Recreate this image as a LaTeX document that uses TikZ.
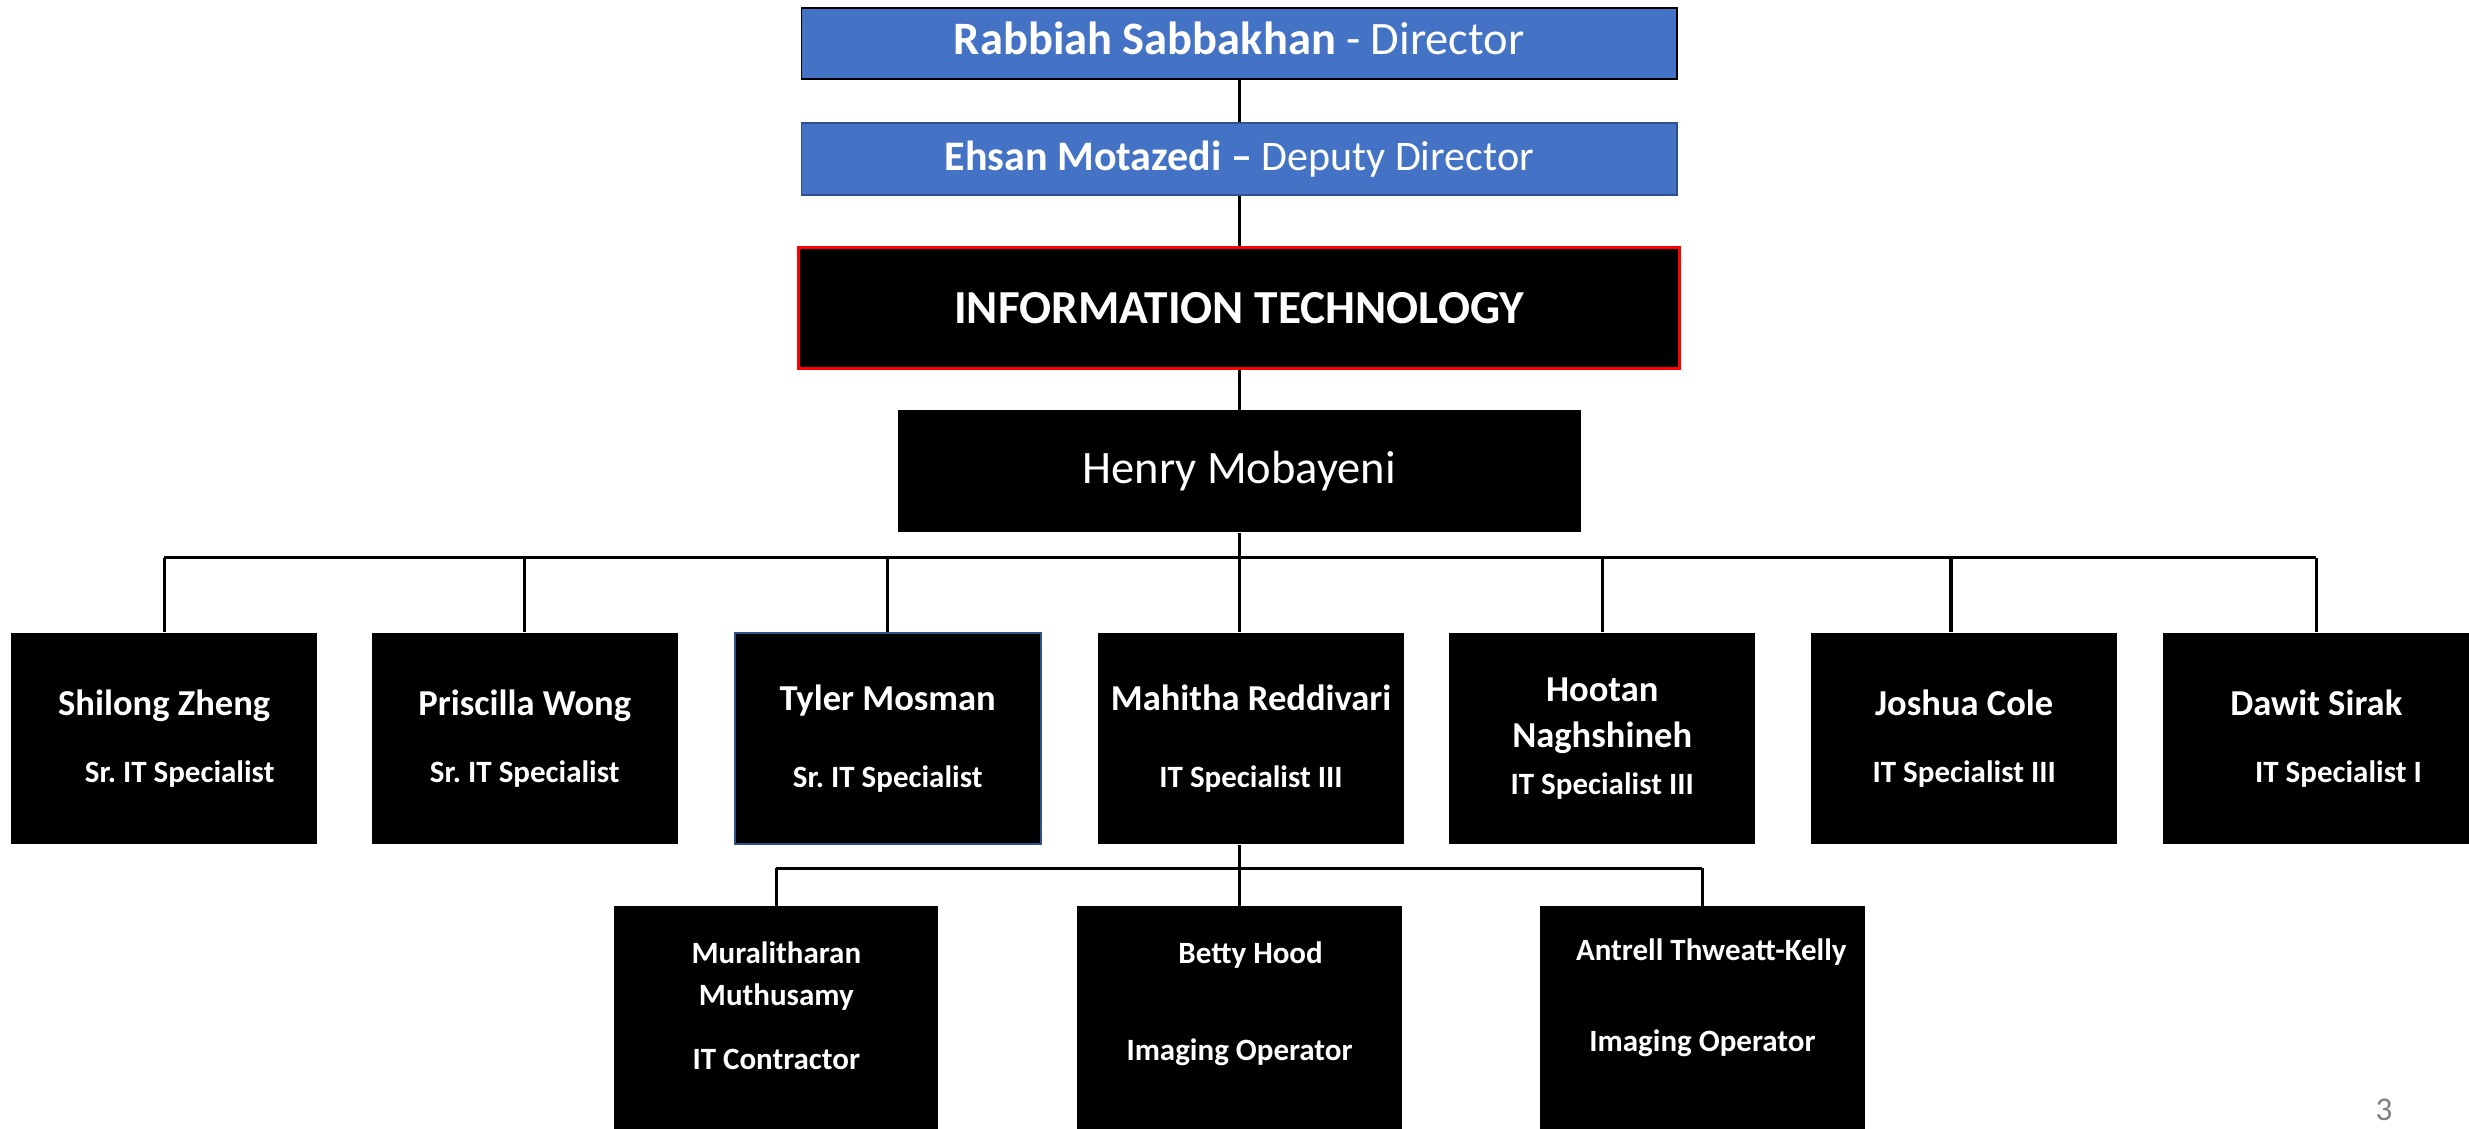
\documentclass[tikz,border=0pt]{standalone}
\usepackage{fontspec}
\setmainfont{Carlito}
\usetikzlibrary{positioning}
\definecolor{officeblue}{HTML}{4472C4}
\definecolor{frameblue}{HTML}{2F528F}
\tikzset{
  headbox/.style={draw=black, line width=0.8pt, fill=officeblue, text=white, inner sep=0pt,
    minimum width=139mm, minimum height=11.5mm, font=\fontsize{21}{25}\selectfont},
  darkbox/.style={fill=black, text=white, inner sep=0pt},
  staff/.style={darkbox, minimum width=48.6mm, minimum height=33.6mm, align=center,
    font=\bfseries\fontsize{16.5}{21}\selectfont},
  helper/.style={darkbox, minimum width=51.5mm, minimum height=35.4mm},
  helpertext/.style={text=white, inner sep=0pt, align=center, font=\bfseries\fontsize{14}{19}\selectfont},
  link/.style={line width=1.4pt},
}
\newcommand\jobtitle[1]{{\fontsize{14}{17}\selectfont #1}}

\begin{document}
\begin{tikzpicture}[x=0.25mm, y=-0.25mm]
  \useasboundingbox (0,0) rectangle (1568,717);
  % management
  \node[headbox, minimum height=11.25mm, text depth=5pt] (director) at (787,27.5) {\textbf{Rabbiah Sabbakhan} - Director};
  \node[headbox, draw=frameblue, font=\fontsize{19}{23}\selectfont] (deputy) at (787,101) {\textbf{Ehsan Motazedi –} Deputy Director};
  \node[darkbox, draw=red, line width=1.5pt, minimum width=139.9mm, minimum height=19.25mm,
    font=\bfseries\fontsize{21.4}{25}\selectfont] (it) at (787,195.5) {INFORMATION TECHNOLOGY};
  \node[darkbox, minimum width=108.5mm, minimum height=19.4mm, font=\fontsize{21}{25}\selectfont] (henry) at (787,299.25) {Henry Mobayeni};

  % staff row
  \node[staff] (shilong) at (104.25,469) {Shilong Zheng\\[9pt]\jobtitle{\hspace*{14pt}Sr.\ IT Specialist}};
  \node[staff] (priscilla) at (333.25,469) {Priscilla Wong\\[9pt]\jobtitle{Sr.\ IT Specialist}};
  \node[staff, draw=frameblue, line width=1pt] (tyler) at (563.75,469) {Tyler Mosman\\[14pt]\jobtitle{Sr.\ IT Specialist}};
  \node[staff] (mahitha) at (794.5,469) {Mahitha Reddivari\\[14pt]\jobtitle{IT Specialist III}};
  \node[staff] (hootan) at (1017.5,469) {Hootan\\Naghshineh\\\jobtitle{IT Specialist III}};
  \node[staff] (joshua) at (1247.4,469) {Joshua Cole\\[9pt]\jobtitle{IT Specialist III}};
  \node[staff] (dawit) at (1471,469) {Dawit Sirak\\[9pt]\jobtitle{\hspace*{20pt}IT Specialist I}};

  % helpers under Mahitha
  \node[helper] (murali) at (493,646.2) {};
  \node[helpertext, below=16pt of murali.north] (murali-txt) {Muralitharan\\Muthusamy\\[10pt]IT Contractor};
  \node[helper] (betty) at (787.2,646.2) {};
  \node[helpertext, below=16pt of betty.north] (betty-txt) {\hspace*{10pt}Betty Hood\\[25pt]Imaging Operator};
  \node[helper] (antrell) at (1081.2,646.2) {};
  \node[helpertext, below=15pt of antrell.north] (antrell-txt) {\hspace*{8pt}Antrell Thweatt-Kelly\\[22pt]Imaging Operator};

  \node[text=gray, font=\fontsize{15}{18}\selectfont] (pagenum) at (1514,705) {3};

  % connectors
  \draw[link] (director) -- (deputy);
  \draw[link] (deputy) -- (it);
  \draw[link] (it) -- (henry);
  \draw[link] (henry.south) -- ++(0,16) coordinate (bus);
  \draw[link] (bus -| shilong.north) -- (bus -| dawit.north);
  \foreach \who in {shilong,priscilla,tyler,hootan,dawit}
    \draw[link] (bus -| \who.north) -- (\who.north);
  \draw[link] ([xshift=-2.1mm]bus -| joshua.north) -- ([xshift=-2.1mm]joshua.north);
  \draw[link] (bus) -- (bus |- mahitha.north);
  \draw[link] (bus |- mahitha.south) -- ++(0,15) coordinate (subbus);
  \draw[link] (subbus -| murali.north) -- (subbus -| antrell.north);
  \foreach \who in {murali,betty,antrell}
    \draw[link] (subbus -| \who.north) -- (\who.north);
\end{tikzpicture}
\end{document}
